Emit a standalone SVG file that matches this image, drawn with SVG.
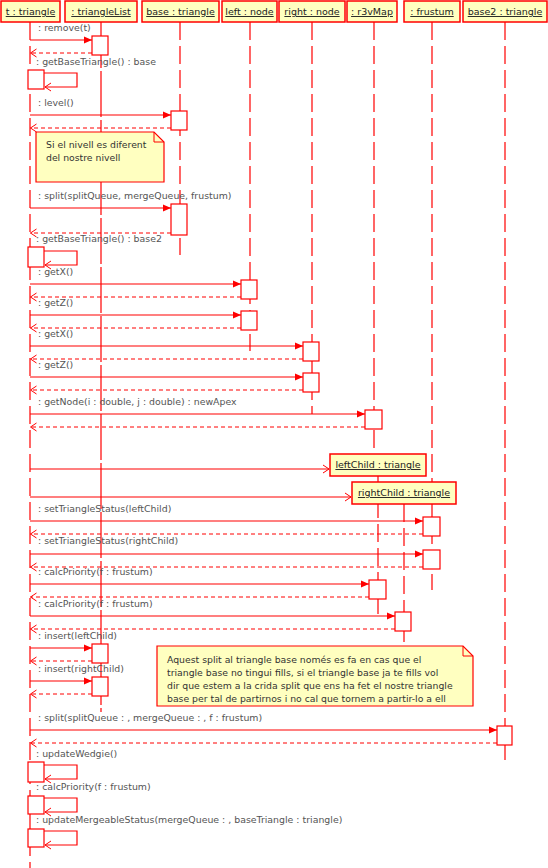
<svg xmlns="http://www.w3.org/2000/svg" width="548" height="868" viewBox="0 0 548 868">
<defs>
<style>
.hdr{fill:#ffffc0;stroke:#f00;stroke-width:1.5}
.ht{font-family:"DejaVu Sans",sans-serif;font-size:9.5px;fill:#222;text-anchor:middle;text-decoration:underline}
.life{stroke:#f00;stroke-width:1.2;stroke-dasharray:18,6;fill:none}
.act{fill:#fff;stroke:#f00;stroke-width:1.2}
.msg{stroke:#f00;stroke-width:1.2;fill:none}
.ret{stroke:#f00;stroke-width:1;stroke-dasharray:4,3;fill:none}
.lbl{font-family:"DejaVu Sans",sans-serif;font-size:9.4px;fill:#555}
.note{fill:#ffffc0;stroke:#f00;stroke-width:1.2}
.nt{font-family:"DejaVu Sans",sans-serif;font-size:9.3px;fill:#333}
</style>
<marker id="fill" markerUnits="userSpaceOnUse" markerWidth="8" markerHeight="8" refX="8" refY="4" orient="auto"><path d="M0,0.5 L8,4 L0,7.5 z" fill="#f00"/></marker>
<marker id="open" markerUnits="userSpaceOnUse" markerWidth="8" markerHeight="10" refX="7" refY="5" orient="auto"><path d="M1,1 L7,5 L1,9" fill="none" stroke="#f00" stroke-width="1"/></marker>
</defs>
<rect width="548" height="868" fill="#fff"/>

<g id="lifelines">
<line class="life" x1="30" y1="22" x2="30" y2="868"/>
<line class="life" x1="101" y1="22" x2="101" y2="712" style="stroke-dasharray:46,3"/>
<line class="life" x1="180" y1="22" x2="180" y2="255"/>
<line class="life" x1="250" y1="22" x2="250" y2="351"/>
<line class="life" x1="312" y1="22" x2="312" y2="414"/>
<line class="life" x1="374" y1="22" x2="374" y2="454"/>
<line class="life" x1="432" y1="22" x2="432" y2="590"/>
<line class="life" x1="505" y1="22" x2="505" y2="760"/>
<line class="life" x1="378" y1="476" x2="378" y2="615"/>
<line class="life" x1="404" y1="504" x2="404" y2="643"/>
</g>

<g id="n_t"><rect class="hdr" x="1" y="1" width="59" height="21"/><text class="ht" x="30.5" y="15">t : triangle</text></g>
<g id="n_triangleList"><rect class="hdr" x="65" y="1" width="72" height="21"/><text class="ht" x="101" y="15">: triangleList</text></g>
<g id="n_base"><rect class="hdr" x="142" y="1" width="77" height="21"/><text class="ht" x="180.5" y="15">base : triangle</text></g>
<g id="n_left"><rect class="hdr" x="222" y="1" width="55" height="21"/><text class="ht" x="249.5" y="15">left : node</text></g>
<g id="n_right"><rect class="hdr" x="279" y="1" width="66" height="21"/><text class="ht" x="312" y="15">right : node</text></g>
<g id="n_r3vMap"><rect class="hdr" x="347" y="1" width="50" height="21"/><text class="ht" x="372" y="15">: r3vMap</text></g>
<g id="n_frustum"><rect class="hdr" x="404" y="1" width="56" height="21"/><text class="ht" x="432" y="15">: frustum</text></g>
<g id="n_base2"><rect class="hdr" x="463" y="1" width="84" height="21"/><text class="ht" x="505" y="15">base2 : triangle</text></g>
<g id="n_leftChild"><rect class="hdr" x="330" y="454" width="96" height="22"/><text class="ht" x="378" y="468">leftChild : triangle</text></g>
<g id="n_rightChild"><rect class="hdr" x="352" y="482" width="104" height="22"/><text class="ht" x="404" y="496">rightChild : triangle</text></g>

<g id="notes">
<g id="note1"><path class="note" d="M36,132 H154 L164,142 V182 H36 Z"/><path d="M154,132 V142 H164" fill="none" stroke="#f00" stroke-width="1"/>
<text class="nt" x="46" y="148">Si el nivell es diferent</text><text class="nt" x="46" y="161">del nostre nivell</text></g>
<g id="note2"><path class="note" d="M157,646 H463 L473,656 V706 H157 Z"/><path d="M463,646 V656 H473" fill="none" stroke="#f00" stroke-width="1"/>
<text class="nt" x="167" y="663">Aquest split al triangle base només es fa en cas que el</text>
<text class="nt" x="167" y="676">triangle base no tingui fills, si el triangle base ja te fills vol</text>
<text class="nt" x="167" y="689">dir que estem a la crida split que ens ha fet el nostre triangle</text>
<text class="nt" x="167" y="702">base per tal de partirnos i no cal que tornem a partir-lo a ell</text></g>
</g>

<g id="activations">
<rect class="act" x="92" y="36" width="16" height="19"/>
<rect class="act" x="28" y="70" width="16" height="19"/>
<rect class="act" x="171" y="111" width="16" height="19"/>
<rect class="act" x="171" y="204" width="16" height="31"/>
<rect class="act" x="28" y="247" width="16" height="20"/>
<rect class="act" x="241" y="280" width="16" height="19"/>
<rect class="act" x="241" y="311" width="16" height="19"/>
<rect class="act" x="303" y="342" width="16" height="19"/>
<rect class="act" x="303" y="373" width="16" height="19"/>
<rect class="act" x="365" y="410" width="17" height="19"/>
<rect class="act" x="423" y="517" width="17" height="19"/>
<rect class="act" x="423" y="550" width="17" height="19"/>
<rect class="act" x="369" y="580" width="17" height="19"/>
<rect class="act" x="395" y="612" width="16" height="19"/>
<rect class="act" x="92" y="644" width="16" height="19"/>
<rect class="act" x="92" y="677" width="16" height="19"/>
<rect class="act" x="497" y="726" width="15" height="19"/>
<rect class="act" x="28" y="762" width="16" height="20"/>
<rect class="act" x="28" y="796" width="16" height="18"/>
<rect class="act" x="28" y="829" width="16" height="18"/>
</g>

<g id="connectors">
<line class="msg" x1="30" y1="40" x2="92" y2="40" marker-end="url(#fill)"/>
<line class="ret" x1="92" y1="53" x2="30.5" y2="53" marker-end="url(#open)"/>
<path class="msg" d="M44,73 H77 V87 H45" marker-end="url(#open)"/>
<line class="msg" x1="30" y1="115" x2="171" y2="115" marker-end="url(#fill)"/>
<line class="ret" x1="171" y1="128" x2="30.5" y2="128" marker-end="url(#open)"/>
<line class="msg" x1="30" y1="208" x2="171" y2="208" marker-end="url(#fill)"/>
<line class="ret" x1="171" y1="233" x2="30.5" y2="233" marker-end="url(#open)"/>
<path class="msg" d="M44,251 H77 V265 H45" marker-end="url(#open)"/>
<line class="msg" x1="30" y1="284" x2="241" y2="284" marker-end="url(#fill)"/>
<line class="ret" x1="241" y1="297" x2="30.5" y2="297" marker-end="url(#open)"/>
<line class="msg" x1="30" y1="315" x2="241" y2="315" marker-end="url(#fill)"/>
<line class="ret" x1="241" y1="328" x2="30.5" y2="328" marker-end="url(#open)"/>
<line class="msg" x1="30" y1="346" x2="303" y2="346" marker-end="url(#fill)"/>
<line class="ret" x1="303" y1="359" x2="30.5" y2="359" marker-end="url(#open)"/>
<line class="msg" x1="30" y1="377" x2="303" y2="377" marker-end="url(#fill)"/>
<line class="ret" x1="303" y1="390" x2="30.5" y2="390" marker-end="url(#open)"/>
<line class="msg" x1="30" y1="414" x2="365" y2="414" marker-end="url(#fill)"/>
<line class="ret" x1="365" y1="427" x2="30.5" y2="427" marker-end="url(#open)"/>
<line class="msg" x1="30" y1="469" x2="329" y2="469" marker-end="url(#open)"/>
<line class="msg" x1="30" y1="497" x2="351" y2="497" marker-end="url(#open)"/>
<line class="msg" x1="30" y1="521" x2="423" y2="521" marker-end="url(#fill)"/>
<line class="ret" x1="423" y1="534" x2="30.5" y2="534" marker-end="url(#open)"/>
<line class="msg" x1="30" y1="554" x2="423" y2="554" marker-end="url(#fill)"/>
<line class="ret" x1="423" y1="567" x2="30.5" y2="567" marker-end="url(#open)"/>
<line class="msg" x1="30" y1="584" x2="369" y2="584" marker-end="url(#fill)"/>
<line class="ret" x1="369" y1="597" x2="30.5" y2="597" marker-end="url(#open)"/>
<line class="msg" x1="30" y1="616" x2="395" y2="616" marker-end="url(#fill)"/>
<line class="ret" x1="395" y1="629" x2="30.5" y2="629" marker-end="url(#open)"/>
<line class="msg" x1="30" y1="648" x2="92" y2="648" marker-end="url(#fill)"/>
<line class="ret" x1="92" y1="661" x2="30.5" y2="661" marker-end="url(#open)"/>
<line class="msg" x1="30" y1="681" x2="92" y2="681" marker-end="url(#fill)"/>
<line class="ret" x1="92" y1="694" x2="30.5" y2="694" marker-end="url(#open)"/>
<line class="msg" x1="30" y1="730" x2="497" y2="730" marker-end="url(#fill)"/>
<line class="ret" x1="497" y1="743" x2="30.5" y2="743" marker-end="url(#open)"/>
<path class="msg" d="M44,765 H77 V779 H45" marker-end="url(#open)"/>
<path class="msg" d="M44,798 H77 V812 H45" marker-end="url(#open)"/>
<path class="msg" d="M44,831 H77 V845 H45" marker-end="url(#open)"/>
</g>

<g id="labels">
<text class="lbl" x="38" y="31">: remove(t)</text>
<text class="lbl" x="36" y="65">: getBaseTriangle() : base</text>
<text class="lbl" x="38" y="106">: level()</text>
<text class="lbl" x="38" y="199">: split(splitQueue, mergeQueue, frustum)</text>
<text class="lbl" x="36" y="242">: getBaseTriangle() : base2</text>
<text class="lbl" x="38" y="275">: getX()</text>
<text class="lbl" x="38" y="306">: getZ()</text>
<text class="lbl" x="38" y="337">: getX()</text>
<text class="lbl" x="38" y="368">: getZ()</text>
<text class="lbl" x="38" y="405">: getNode(i : double, j : double) : newApex</text>
<text class="lbl" x="38" y="512">: setTriangleStatus(leftChild)</text>
<text class="lbl" x="38" y="544">: setTriangleStatus(rightChild)</text>
<text class="lbl" x="38" y="575">: calcPriority(f : frustum)</text>
<text class="lbl" x="38" y="607">: calcPriority(f : frustum)</text>
<text class="lbl" x="38" y="639">: insert(leftChild)</text>
<text class="lbl" x="38" y="672">: insert(rightChild)</text>
<text class="lbl" x="38" y="721">: split(splitQueue : , mergeQueue : , f : frustum)</text>
<text class="lbl" x="36" y="757">: updateWedgie()</text>
<text class="lbl" x="36" y="790">: calcPriority(f : frustum)</text>
<text class="lbl" x="36" y="823">: updateMergeableStatus(mergeQueue : , baseTriangle : triangle)</text>
</g>
</svg>
